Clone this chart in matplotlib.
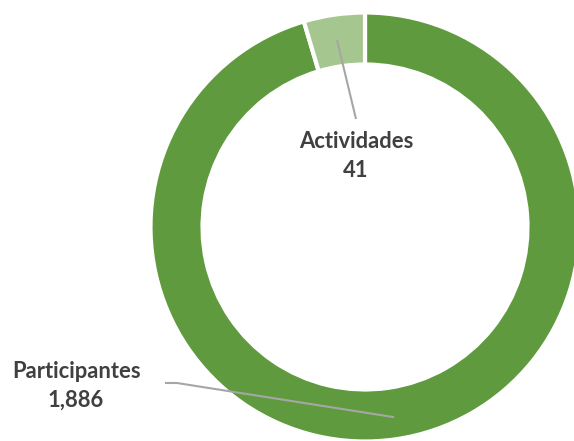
import matplotlib
matplotlib.use("Agg")
import matplotlib.pyplot as plt

# Data
categories = ["Participantes", "Actividades"]
values = [1886, 41]                 # values shown in the labels
ring_share = [95.4, 4.6]            # share of the ring occupied by each slice
colors = ["#609a3e", "#a5c78f"]

W, H = 574, 441
fig = plt.figure(figsize=(W / 100, H / 100), dpi=100)
ax = fig.add_axes([0, 0, 1, 1])

cx, cy = 365, H - 227
ax.pie(ring_share, radius=214.5, center=(cx, cy), startangle=90, counterclock=False,
       colors=colors, wedgeprops=dict(width=52, edgecolor="white", linewidth=3))
ax.set_xlim(0, W)
ax.set_ylim(0, H)
ax.set_aspect("equal")
ax.axis("off")

lc = "#a6a6a6"
# leader lines
ax.plot([337, 356], [H - 40, H - 119], color=lc, lw=1.5, solid_capstyle="butt")
ax.plot([166, 177, 393], [H - 383, H - 383, H - 417], color=lc, lw=1.5)

tkw = dict(fontfamily=["Lato", "DejaVu Sans"], fontweight="bold", color="#404040",
           fontsize=15.8, ha="center", va="baseline")
ax.text(356, H - 148, categories[1], **tkw)
ax.text(356, H - 177, f"{values[1]:,}", **tkw)
ax.text(77, H - 378, categories[0], **tkw)
ax.text(76, H - 407, f"{values[0]:,}", **tkw)

fig.savefig("out.png", dpi=100)
